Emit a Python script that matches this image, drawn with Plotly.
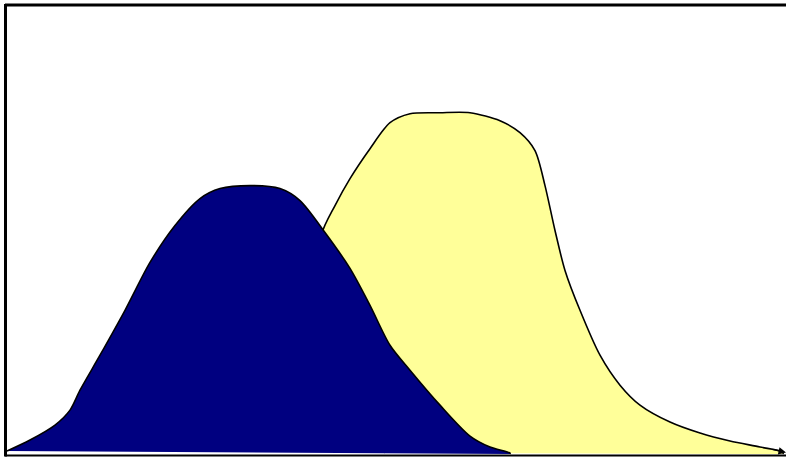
import plotly.graph_objects as go

# Blue (navy) distribution: x position, height
blue_x = [2, 25, 50, 65, 75, 95, 120, 145, 170, 195, 215, 245, 275, 295, 320, 345, 365, 385, 405, 435, 465, 485, 505]
blue_y = [3, 14, 29, 44, 64, 99, 144, 192, 229, 256, 266, 269, 266, 254, 222, 186, 149, 109, 84, 49, 18, 7, 1]

# Yellow distribution: x position, height (left flank hidden behind the blue one)
yellow_x = [380, 340, 318, 317, 330, 345, 365, 385, 405, 435, 465, 495, 515, 530, 540, 550, 560, 575, 595, 615, 635, 665, 695, 725, 755, 778]
yellow_y = [1, 100, 190, 221, 249, 276, 306, 332, 341, 342, 342, 334, 322, 304, 269, 224, 184, 144, 99, 69, 49, 32, 21, 13, 7, 2]

fig = go.Figure()
fig.add_trace(go.Scatter(
    x=yellow_x + [yellow_x[-1]], y=yellow_y + [0], mode="lines",
    line=dict(color="black", width=1.6, shape="spline", smoothing=0.8),
    fill="toself", fillcolor="#FFFF99", hoverinfo="skip", showlegend=False))
fig.add_trace(go.Scatter(
    x=blue_x + [blue_x[-1]], y=blue_y + [0], mode="lines",
    line=dict(color="black", width=1.6, shape="spline", smoothing=0.8),
    fill="toself", fillcolor="#000080", hoverinfo="skip", showlegend=False))

# arrow at end of yellow curve
fig.add_annotation(x=yellow_x[-1] + 3, y=yellow_y[-1] - 0.5, ax=yellow_x[-1] - 12, ay=yellow_y[-1] + 3,
                   xref="x", yref="y", axref="x", ayref="y", showarrow=True,
                   arrowhead=2, arrowsize=1, arrowwidth=1.5, arrowcolor="black", text="")

fig.update_layout(
    width=786, height=459, margin=dict(l=0, r=0, t=0, b=0),
    paper_bgcolor="white", plot_bgcolor="white",
    xaxis=dict(range=[-5, 781], visible=False, fixedrange=True),
    yaxis=dict(range=[-5, 455], visible=False, fixedrange=True),
    shapes=[
        dict(type="line", xref="x", yref="y", x0=0, x1=781, y0=450, y1=450, line=dict(color="black", width=3)),
        dict(type="line", xref="x", yref="y", x0=0.5, x1=0.5, y0=-2.5, y1=451, line=dict(color="black", width=3)),
        dict(type="line", xref="x", yref="y", x0=0, x1=781, y0=-1.5, y1=-1.5, line=dict(color="black", width=2)),
    ],
)
fig.write_html("out.html", config={"displayModeBar": False},
               post_script="document.body.style.margin='0';document.body.style.overflow='hidden';")
